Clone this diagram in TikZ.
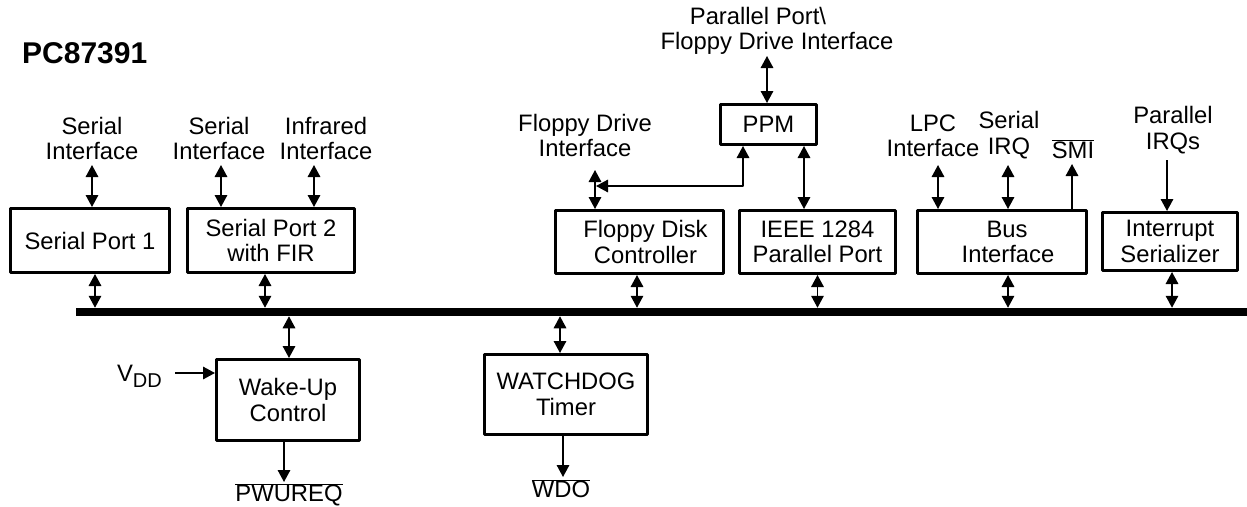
\documentclass[tikz,border=0pt]{standalone}
\usepackage{fontspec}
\setmainfont{Liberation Sans}
\usetikzlibrary{positioning,arrows.meta}
\tikzset{
	blk/.style={draw, line width=2.8pt, align=center, inner sep=0pt},
	lbl/.style={align=center, inner sep=0pt},
	sig/.style={line width=1.6pt},
	bus/.style={line width=8.5pt}
}
\begin{document}
\begin{tikzpicture}[x=1pt, y=-1pt, font=\fontsize{23.8}{25.5}\selectfont, line join=round, >={Triangle[length=12pt,width=12.5pt]}]
	\useasboundingbox (0,0) rectangle (1247,506);
	\node[anchor=base west, inner sep=0pt, font=\fontsize{30}{30}\selectfont\bfseries] (title) at (22,63) {PC87391};
	% blocks
	\node[blk, minimum width=159.2pt, minimum height=64.2pt] (sp1) at (90,240.5) {Serial Port 1};
	\node[blk, minimum width=167.2pt, minimum height=64.2pt] (sp2) at (271,240.5) {Serial Port 2\\with FIR};
	\node[blk, minimum width=168.2pt, minimum height=63.2pt] (fdc) at (639.5,242) {\hspace*{12pt}Floppy Disk\\\hspace*{12pt}Controller};
	\node[blk, minimum width=156.2pt, minimum height=63.2pt] (ieee) at (817.5,242) {IEEE 1284\\Parallel Port};
	\node[blk, minimum width=96.2pt, minimum height=40.2pt] (ppm) at (768.5,124.5) {PPM};
	\node[blk, minimum width=169.2pt, minimum height=63.2pt] (bif) at (1002,242) {\hspace*{10pt}Bus\\\hspace*{12pt}Interface};
	\node[blk, minimum width=135.2pt, minimum height=58.2pt] (isr) at (1170,241.5) {Interrupt\\Serializer};
	\node[blk, minimum width=143.2pt, minimum height=81.2pt] (wuc) at (288,400) {Wake-Up\\Control};
	\node[blk, minimum width=163.2pt, minimum height=80.2pt] (wdt) at (566,394.5) {WATCHDOG\\Timer};
	% bus
	\coordinate (bus-l) at (76,312);
	\coordinate (bus-r) at (1247,312);
	\coordinate (bus-t) at (76,307.75);
	\coordinate (bus-b) at (76,316.25);
	\draw[bus] (bus-l) -- (bus-r);
	\draw[sig,<->] ([xshift=5pt]sp1.south) -- ([xshift=5pt]sp1.south |- bus-t);
	\draw[sig,<->] ([xshift=-6pt]sp2.south) -- ([xshift=-6pt]sp2.south |- bus-t);
	\draw[sig,<->] ([xshift=-2.5pt]fdc.south) -- ([xshift=-2.5pt]fdc.south |- bus-t);
	\draw[sig,<->] (ieee.south) -- (ieee.south |- bus-t);
	\draw[sig,<->] ([xshift=6pt]bif.south) -- ([xshift=6pt]bif.south |- bus-t);
	\draw[sig,<->] ([xshift=2pt]isr.south) -- ([xshift=2pt]isr.south |- bus-t);
	\draw[sig,<->] ([xshift=1pt]wuc.north) -- ([xshift=1pt]wuc.north |- bus-b);
	\draw[sig,<->] ([xshift=-6pt]wdt.north) -- ([xshift=-6pt]wdt.north |- bus-b);
	% outside signals
	\coordinate (t-sp1) at (92,165);
	\coordinate (t-sp2a) at (221,165);
	\coordinate (t-sp2b) at (314,165);
	\coordinate (t-fdc) at (595,170);
	\coordinate (t-ppm) at (767,56);
	\coordinate (t-lpc) at (938,165);
	\coordinate (t-sirq) at (1008,165);
	\coordinate (t-smi) at (1072,164);
	\coordinate (t-pirq) at (1167,160);
	\coordinate (b-wuc) at (284,482);
	\coordinate (b-wdt) at (563,477);
	\coordinate (v-in) at (175,373);
	\coordinate (k-fdc) at (596,186);
	\node[lbl, above=5pt of t-sp1] (l-sp1) {Serial\\Interface};
	\node[lbl, above=5pt of t-sp2a, xshift=-2pt] (l-sp2a) {Serial\\Interface};
	\node[lbl, above=5pt of t-sp2b, xshift=12pt] (l-sp2b) {Infrared\\Interface};
	\node[lbl, above=13pt of t-fdc, xshift=-10pt] (l-fdc) {Floppy Drive\\Interface};
	\node[lbl, above=1pt of t-ppm, xshift=10pt] (l-ppm) {Parallel Port\textbackslash\hspace*{38pt}\\Floppy Drive Interface};
	\node[lbl, above=8pt of t-lpc, xshift=-5pt] (l-lpc) {LPC\\Interface};
	\node[lbl, above=6pt of t-sirq, xshift=1pt] (l-sirq) {Serial\\IRQ};
	\node[lbl, above=5pt of t-smi, xshift=1pt] (l-smi) {$\overline{\hbox{SMI}}$};
	\node[lbl, above=6pt of t-pirq, xshift=6pt] (l-pirq) {Parallel\\IRQs};
	\node[lbl, below=1pt of b-wuc, xshift=5pt] (l-wuc) {$\overline{\hbox{PWUREQ}}$};
	\node[lbl, below=2pt of b-wdt, xshift=-2pt] (l-wdt) {$\overline{\hbox{WDO}}$};
	\node[lbl, left=13pt of v-in, yshift=-3pt] (l-vdd) {V\raisebox{-6pt}{\fontsize{20}{20}\selectfont DD}};
	\draw[sig,<->] (t-sp1) -- (t-sp1 |- sp1.north);
	\draw[sig,<->] (t-sp2a) -- (t-sp2a |- sp2.north);
	\draw[sig,<->] (t-sp2b) -- (t-sp2b |- sp2.north);
	\draw[sig,<->] (t-fdc) -- (t-fdc |- fdc.north);
	\draw[sig,<->] (t-ppm) -- (t-ppm |- ppm.north);
	\draw[sig,<->] (k-fdc) -| ([xshift=-25.5pt]ppm.south);
	\draw[sig,<->] ([xshift=35.5pt]ppm.south) -- ([xshift=35.5pt]ppm.south |- ieee.north);
	\draw[sig,<->] (t-lpc) -- (t-lpc |- bif.north);
	\draw[sig,<->] (t-sirq) -- (t-sirq |- bif.north);
	\draw[sig,->] (t-smi |- bif.north) -- (t-smi);
	\draw[sig,->] (t-pirq) -- (t-pirq |- isr.north);
	\draw[sig,->] (b-wuc |- wuc.south) -- (b-wuc);
	\draw[sig,->] (b-wdt |- wdt.south) -- (b-wdt);
	\draw[sig,->] (v-in) -- (v-in -| wuc.west);
\end{tikzpicture}
\end{document}
